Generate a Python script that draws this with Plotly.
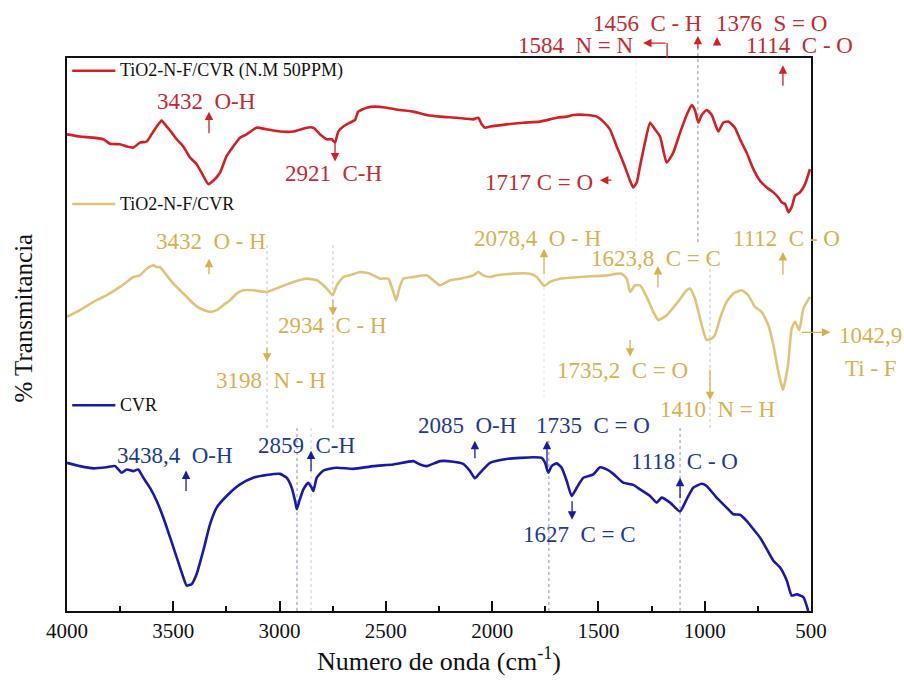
import plotly.graph_objects as go

# ---- FTIR spectra: wavenumber (cm-1) and transmittance (arbitrary units, stacked) ----
npm_wn = [4000, 3939, 3876, 3829, 3798, 3751, 3719, 3688, 3657, 3625, 3602, 3578,
          3555, 3531, 3507, 3484, 3453, 3421, 3390, 3359, 3335, 3312, 3280, 3249,
          3218, 3186, 3155, 3108, 3061, 2998, 2935, 2872, 2841, 2810, 2778, 2755,
          2739, 2724, 2700, 2669, 2645, 2630, 2590, 2551, 2496, 2434, 2371, 2308,
          2245, 2167, 2089, 2065, 2049, 2034, 2010, 1932, 1853, 1775, 1696, 1649,
          1618, 1555, 1508, 1477, 1446, 1414, 1383, 1351, 1336, 1320, 1304, 1281,
          1257, 1234, 1210, 1179, 1148, 1116, 1085, 1061, 1046, 1030, 1014, 991,
          967, 936, 913, 889, 858, 834, 803, 771, 740, 708, 677, 654, 638, 622,
          606, 591, 575, 552, 528, 505]
npm_t = [86.2, 85.8, 85.6, 85.3, 84.5, 84.4, 84.0, 83.8, 84.7, 84.9, 86.2, 87.6,
         88.7, 87.6, 86.5, 85.3, 84.0, 82.0, 80.8, 78.7, 77.2, 77.8, 79.3, 82.3,
         84.0, 85.6, 86.2, 87.4, 87.1, 86.7, 86.7, 87.4, 87.4, 86.2, 85.3, 85.3,
         84.7, 86.7, 87.6, 88.3, 88.8, 90.3, 91.0, 91.2, 91.0, 90.6, 90.3, 89.7,
         89.4, 89.2, 88.9, 89.2, 88.0, 87.4, 87.6, 88.0, 88.3, 88.5, 89.2, 89.4,
         89.7, 89.7, 89.4, 88.5, 87.1, 84.0, 81.1, 77.8, 76.6, 77.5, 80.5, 84.7,
         88.3, 87.1, 85.8, 81.1, 82.9, 86.5, 89.7, 91.5, 90.6, 88.3, 89.7, 90.6,
         89.7, 86.7, 88.3, 88.5, 87.4, 85.3, 82.9, 79.9, 77.8, 76.6, 75.7, 74.8,
         73.9, 73.6, 72.1, 73.0, 75.1, 75.7, 77.2, 79.9]

tnf_wn = [4000, 3939, 3876, 3813, 3751, 3719, 3688, 3657, 3625, 3594, 3578, 3563,
          3531, 3500, 3468, 3437, 3406, 3374, 3327, 3296, 3265, 3233, 3202, 3171,
          3124, 3061, 2998, 2935, 2872, 2825, 2794, 2771, 2750, 2731, 2700, 2669,
          2622, 2575, 2528, 2489, 2465, 2452, 2437, 2418, 2371, 2308, 2245, 2198,
          2151, 2089, 2065, 2042, 2010, 1979, 1900, 1822, 1790, 1755, 1728, 1681,
          1587, 1461, 1391, 1367, 1351, 1328, 1304, 1273, 1242, 1218, 1179, 1132,
          1085, 1069, 1046, 1014, 991, 967, 952, 928, 897, 866, 826, 795, 764, 732,
          701, 677, 654, 632, 608, 591, 575, 555, 536, 505]
tnf_t = [53.2, 54.4, 55.9, 57.1, 58.6, 59.5, 60.4, 60.7, 61.9, 62.5, 62.2, 62.2,
         60.7, 59.2, 58.0, 56.8, 55.6, 54.7, 54.1, 54.4, 55.3, 56.2, 57.4, 58.0,
         58.0, 57.7, 58.6, 59.5, 60.1, 59.8, 58.9, 58.0, 57.1, 58.9, 60.4, 60.7,
         61.3, 61.0, 60.1, 60.1, 57.7, 56.2, 58.3, 60.1, 60.4, 60.7, 58.9, 59.8,
         60.1, 60.7, 61.3, 60.7, 60.4, 60.7, 61.0, 61.0, 60.4, 58.8, 59.5, 60.1,
         60.4, 60.7, 61.0, 60.1, 57.7, 58.9, 58.9, 56.8, 54.1, 52.6, 53.5, 55.6,
         58.0, 58.3, 56.5, 51.7, 49.0, 49.3, 49.9, 52.9, 55.9, 57.4, 58.0, 57.1,
         55.0, 54.1, 51.7, 48.1, 43.3, 40.0, 44.5, 51.1, 52.3, 50.8, 54.7, 56.8]

cvr_wn = [4000, 3939, 3876, 3813, 3774, 3743, 3719, 3688, 3665, 3641, 3610, 3578,
          3547, 3515, 3484, 3453, 3437, 3413, 3390, 3359, 3327, 3296, 3249, 3186,
          3124, 3061, 2998, 2967, 2943, 2927, 2919, 2907, 2888, 2865, 2849, 2841,
          2825, 2794, 2731, 2653, 2559, 2465, 2371, 2339, 2308, 2245, 2183, 2136,
          2104, 2081, 2057, 2010, 1932, 1806, 1767, 1751, 1736, 1720, 1696, 1673,
          1649, 1626, 1602, 1571, 1524, 1493, 1461, 1430, 1383, 1336, 1304, 1257,
          1226, 1202, 1163, 1116, 1085, 1054, 1014, 991, 944, 897, 866, 834, 803,
          771, 740, 708, 677, 646, 614, 591, 567, 536, 513]
cvr_t = [26.8, 26.2, 25.8, 26.0, 26.2, 25.0, 25.6, 25.3, 25.6, 24.1, 22.3, 19.9,
         16.9, 13.3, 9.7, 6.1, 4.6, 4.9, 6.7, 10.9, 15.7, 18.7, 20.8, 22.9, 24.1,
         24.6, 24.8, 24.1, 22.3, 19.9, 18.4, 19.9, 22.0, 23.2, 22.3, 21.7, 24.1,
         25.4, 25.9, 25.7, 26.2, 26.5, 27.1, 26.5, 26.2, 27.1, 27.0, 26.6, 25.3,
         24.0, 25.0, 26.8, 27.5, 27.8, 27.7, 26.8, 25.0, 26.2, 26.7, 25.9, 23.5,
         20.8, 22.3, 24.1, 24.7, 26.0, 25.6, 24.8, 23.2, 22.8, 22.0, 20.8, 19.6,
         20.5, 19.6, 18.0, 20.2, 22.3, 23.0, 22.6, 20.5, 18.7, 17.5, 17.4, 16.3,
         14.8, 13.3, 11.2, 9.1, 7.9, 5.5, 2.8, 3.0, 2.5, 0.0]

series_names = ["TiO2-N-F/CVR (N.M 50PPM)", "TiO2-N-F/CVR", "CVR"]
x_ticks = [4000, 3500, 3000, 2500, 2000, 1500, 1000, 500]

RED, RED_TXT = "#d41f26", "#c42a30"
YEL, YEL_TXT = "#e1c27b", "#d8b04f"
BLU, BLU_TXT = "#1a1aa8", "#213a8f"
FONT = "Liberation Serif"

fig = go.Figure()
for wn, t, col in [(npm_wn, npm_t, RED), (tnf_wn, tnf_t, YEL), (cvr_wn, cvr_t, BLU)]:
    fig.add_trace(go.Scatter(x=wn, y=t, mode="lines", showlegend=False,
                             line=dict(color=col, width=2.6, shape="spline",
                                       smoothing=0.5)))

annotations = []
shapes = []

# in-plot legend: short line sample + name
for name, col, yp in zip(series_names, [RED, YEL, BLU], [0.977, 0.736, 0.372]):
    shapes.append(dict(type="line", xref="paper", yref="paper", x0=0.007, x1=0.065,
                       y0=yp, y1=yp, line=dict(color=col, width=2.5)))
    annotations.append(dict(xref="paper", yref="paper", x=0.069, y=yp, text=name,
                            showarrow=False, xanchor="left", yanchor="middle",
                            font=dict(family=FONT, size=18, color="#111")))

# band labels: (text, x, y, xref, yref, color, xanchor)
labels = [
    ("3432  O-H", 3346, 92.1, "x", "y", RED_TXT, "center"),
    ("2921  C-H", 2744, 79.1, "x", "y", RED_TXT, "center"),
    ("1717 C = O", 1516, 77.5, "x", "y", RED_TXT, "right"),
    ("1456  C - H", 1271, 1.063, "x", "paper", RED_TXT, "center"),
    ("1376  S = O", 688, 1.063, "x", "paper", RED_TXT, "center"),
    ("1584  N = N", 1606, 1.023, "x", "paper", RED_TXT, "center"),
    ("1114  C - O", 552, 1.023, "x", "paper", RED_TXT, "center"),
    ("3432  O - H", 3323, 66.9, "x", "y", YEL_TXT, "center"),
    ("2934  C - H", 2749, 51.6, "x", "y", YEL_TXT, "center"),
    ("3198  N - H", 3040, 41.7, "x", "y", YEL_TXT, "center"),
    ("2078,4  O - H", 1789, 67.4, "x", "y", YEL_TXT, "center"),
    ("1623,8  C = C", 1229, 63.8, "x", "y", YEL_TXT, "center"),
    ("1112  C - O", 613, 67.4, "x", "y", YEL_TXT, "center"),
    ("1735,2  C = O", 1389, 43.5, "x", "y", YEL_TXT, "center"),
    ("1410  N = H", 942, 36.5, "x", "y", YEL_TXT, "center"),
    ("1042,9", 1.035, 49.8, "paper", "y", YEL_TXT, "left"),
    ("Ti - F", 1.043, 43.9, "paper", "y", YEL_TXT, "left"),
    ("3438,4  O-H", 3492, 28.2, "x", "y", BLU_TXT, "center"),
    ("2859  C-H", 2871, 30.0, "x", "y", BLU_TXT, "center"),
    ("2085  O-H", 2118, 33.5, "x", "y", BLU_TXT, "center"),
    ("1735  C = O", 1525, 33.5, "x", "y", BLU_TXT, "center"),
    ("1627  C = C", 1587, 13.8, "x", "y", BLU_TXT, "center"),
    ("1118  C - O", 1097, 27.0, "x", "y", BLU_TXT, "center"),
]
for text, x, y, xr, yr, col, xa in labels:
    annotations.append(dict(x=x, y=y, xref=xr, yref=yr, text=text.replace("  ", "&nbsp; "),
                            showarrow=False, xanchor=xa, yanchor="middle",
                            font=dict(family=FONT, size=23, color=col)))

# arrows: head position plus tail offset in pixels
arrows = [
    (3332, 90.3, "x", "y", 0, 23, RED), (2739, 81.3, "x", "y", 0, -20, RED),
    (1493, 77.9, "x", "y", 13, 0, RED), (1032, 1.040, "x", "paper", 0, 14, RED),
    (942, 1.038, "x", "paper", 0, 10, RED), (1290, 1.027, "x", "paper", 24, 0, RED),
    (632, 98.7, "x", "y", 0, 22, RED),
    (3332, 63.7, "x", "y", 0, 17, YEL_TXT), (2749, 53.4, "x", "y", 0, -17, YEL_TXT),
    (3059, 45.1, "x", "y", 0, -15, YEL_TXT), (1756, 65.5, "x", "y", 0, 27, YEL_TXT),
    (1220, 62.4, "x", "y", 0, 23, YEL_TXT), (632, 64.9, "x", "y", 0, 24, YEL_TXT),
    (1351, 46.0, "x", "y", 0, -18, YEL_TXT), (975, 38.1, "x", "y", 0, -32, YEL_TXT),
    (1.026, 50.4, "paper", "y", -30, 0, YEL_TXT),
    (3440, 25.4, "x", "y", 0, 22, BLU), (2852, 29.0, "x", "y", 0, 22, BLU),
    (2081, 30.8, "x", "y", 0, 19, BLU), (1742, 30.8, "x", "y", 0, 32, BLU),
    (1624, 16.5, "x", "y", 0, -20, BLU), (1116, 24.1, "x", "y", 0, 22, BLU),
]
for x, y, xr, yr, ax, ay, col in arrows:
    annotations.append(dict(x=x, y=y, xref=xr, yref=yr, ax=ax, ay=ay, text="",
                            showarrow=True, arrowhead=2, arrowsize=1.3,
                            arrowwidth=1.3, arrowcolor=col, standoff=0))

# bracket stem of the 1584 N = N pointer
shapes.append(dict(type="line", xref="x", yref="paper", x0=1177, x1=1177,
                   y0=1.0, y1=1.027, line=dict(color=RED, width=1.3)))

# dotted guide lines: (x, y0, y1, yref, colour)
guides = [
    (1032, 0.667, 1.032, "paper", "#8a8a8a"), (1323, 0.637, 1.0, "paper", "#ececec"),
    (3059, 33.1, 66.7, "y", "#c4c4c4"), (2749, 33.1, 66.4, "y", "#c4c4c4"),
    (1756, 38.5, 60.6, "y", "#e4e4e4"), (975, 33.1, 64.6, "y", "#c4c4c4"),
    (2918, 0, 33.1, "y", "#8a90b0"), (2852, 0, 33.1, "y", "#c8cbd8"),
    (1733, 0, 30.8, "y", "#8a90b0"), (1116, 0, 33.1, "y", "#8a90b0"),
]
for x, y0, y1, yr, col in guides:
    shapes.append(dict(type="line", xref="x", yref=yr, x0=x, x1=x, y0=y0, y1=y1,
                       line=dict(color=col, width=1, dash="dot"), layer="below"))

annotations.append(dict(xref="paper", yref="paper", x=-0.059, y=0.529,
                        text="% Transmitancia", textangle=-90, showarrow=False,
                        xanchor="center", yanchor="middle",
                        font=dict(family=FONT, size=25, color="#111")))

fig.update_layout(
    width=904, height=683,
    margin=dict(l=67, r=93, t=58, b=69),
    paper_bgcolor="white", plot_bgcolor="white",
    font=dict(family=FONT, color="#111"),
    annotations=annotations, shapes=shapes,
    xaxis=dict(range=[4000, 500], tickvals=x_ticks, ticks="inside", ticklen=10,
               tickwidth=1.5, tickcolor="#111", showline=True, mirror=True,
               linecolor="#111", linewidth=1.5, showgrid=False, zeroline=False,
               tickfont=dict(family=FONT, size=21, color="#111"),
               minor=dict(dtick=250, tick0=500, ticks="inside", ticklen=5,
                          tickwidth=1.5, tickcolor="#111", showgrid=False),
               title=dict(text="Numero de onda (cm<sup>-1</sup>)", standoff=10,
                          font=dict(family=FONT, size=26, color="#111"))),
    yaxis=dict(range=[0, 100], showticklabels=False, ticks="", showline=True,
               mirror=True, linecolor="#111", linewidth=1.5, showgrid=False,
               zeroline=False),
)

fig.write_html("out.html")
